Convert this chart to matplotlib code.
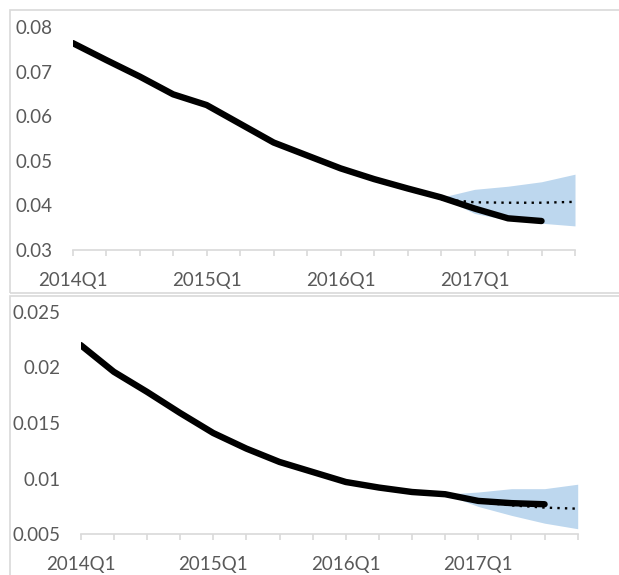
import matplotlib
matplotlib.use("Agg")
import matplotlib.pyplot as plt
from matplotlib.patches import Rectangle

plt.rcParams['font.family'] = ['Lato', 'DejaVu Sans']

quarters = [f"{y}Q{q}" for y in range(2014, 2018) for q in range(1, 5)]

# Upper panel
top_actual = [0.0764, 0.0726, 0.0689, 0.0649, 0.0625, 0.0583, 0.0541, 0.0512,
              0.0483, 0.0459, 0.0438, 0.0418, 0.0393, 0.0371, 0.0365]
top_fc_idx = [11, 12, 13, 14, 15]
top_fc_mid = [0.0414, 0.0407, 0.0406, 0.0406, 0.0408]
top_fc_hi = [0.0418, 0.0436, 0.0443, 0.0453, 0.0470]
top_fc_lo = [0.0418, 0.0382, 0.0367, 0.0360, 0.0354]
top_yticks = [0.03, 0.04, 0.05, 0.06, 0.07, 0.08]
top_ylabels = ["0.03", "0.04", "0.05", "0.06", "0.07", "0.08"]

# Lower panel
bot_actual = [0.0220, 0.0196, 0.0178, 0.0159, 0.0141, 0.0127, 0.0115, 0.0106,
              0.0097, 0.0092, 0.0088, 0.0086, 0.0080, 0.0078, 0.0077]
bot_fc_idx = [11, 12, 13, 14, 15]
bot_fc_mid = [0.0086, 0.0079, 0.0076, 0.0074, 0.0073]
bot_fc_hi = [0.0086, 0.0088, 0.0091, 0.0091, 0.0095]
bot_fc_lo = [0.0086, 0.0075, 0.0067, 0.0060, 0.0055]
bot_yticks = [0.005, 0.01, 0.015, 0.02, 0.025]
bot_ylabels = ["0.005", "0.01", "0.015", "0.02", "0.025"]

W, H = 619, 575
fig = plt.figure(figsize=(W / 100, H / 100), dpi=100)

TEXT = "#595959"
GRID = "#d9d9d9"
BAND = "#bdd7ee"


def frac(x0, y0, x1, y1):
    return [x0 / W, 1 - y1 / H, (x1 - x0) / W, (y1 - y0) / H]


# chart-area frames
fig.add_artist(Rectangle((10 / W, 1 - 293 / H), 700 / W, 283 / H,
                         transform=fig.transFigure, fill=False,
                         edgecolor=GRID, lw=1.2, clip_on=False))
fig.add_artist(Rectangle((10 / W, -0.2), 700 / W, (1 - 296 / H) + 0.2,
                         transform=fig.transFigure, fill=False,
                         edgecolor=GRID, lw=1.2, clip_on=False))


def panel(rect, actual, fc_idx, fc_mid, fc_lo, fc_hi, yticks, ylabels):
    ax = fig.add_axes(rect)
    ax.fill_between(fc_idx, fc_lo, fc_hi, color=BAND, lw=0, zorder=1)
    ax.plot(fc_idx, fc_mid, color="black", lw=1.7, linestyle=(0, (1, 2.2)),
            zorder=2)
    ax.plot(range(len(actual)), actual, color="black", lw=4.6,
            solid_capstyle="round", solid_joinstyle="round", zorder=3)
    ax.set_xlim(0, len(quarters) - 1)
    ax.set_ylim(yticks[0], yticks[-1])
    ax.set_yticks(yticks)
    ax.set_yticklabels(ylabels)
    ax.set_xticks(range(len(quarters)))
    ax.set_xticklabels([q if q.endswith("Q1") else "" for q in quarters])
    for s in ("top", "right", "left"):
        ax.spines[s].set_visible(False)
    ax.spines["bottom"].set_color(GRID)
    ax.spines["bottom"].set_linewidth(1.2)
    ax.tick_params(axis="x", direction="out", length=4, width=1.2,
                   color=GRID, labelcolor=TEXT, labelsize=13.5, pad=11.5)
    ax.tick_params(axis="y", length=0, labelcolor=TEXT, labelsize=13.5,
                   pad=14.5)
    ax.patch.set_alpha(0)
    return ax


panel(frac(72.7, 27, 575, 250), top_actual, top_fc_idx, top_fc_mid,
      top_fc_lo, top_fc_hi, top_yticks, top_ylabels)
panel(frac(80.7, 311.7, 577.7, 534.3), bot_actual, bot_fc_idx, bot_fc_mid,
      bot_fc_lo, bot_fc_hi, bot_yticks, bot_ylabels)

fig.savefig("out.png", dpi=100)
